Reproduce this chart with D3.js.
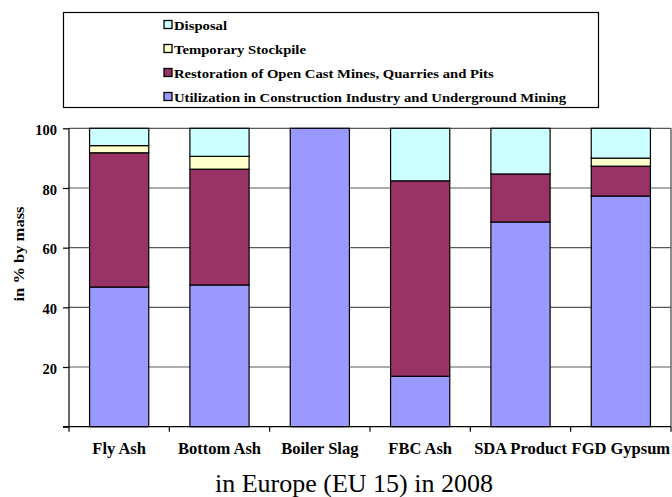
<!DOCTYPE html>
<html><head><meta charset="utf-8">
<script src="https://cdn.jsdelivr.net/npm/d3@7"></script>
<style>body{margin:0;background:#fff}svg{display:block}</style>
</head><body><svg id="c" width="672" height="497" font-family="Liberation Serif"></svg>
<script>
const categories = ["Fly Ash","Bottom Ash","Boiler Slag","FBC Ash","SDA Product","FGD Gypsum"];
const seriesNames = ["Utilization in Construction Industry and Underground Mining","Restoration of Open Cast Mines, Quarries and Pits","Temporary Stockpile","Disposal"];
const utilization = [46.8, 47.5, 100, 16.9, 68.6, 77.3];
const restoration = [45.0, 38.8, 0, 65.5, 16.1, 10.0];
const stockpile   = [2.4, 4.3, 0, 0, 0, 2.7];
const disposal    = [5.8, 9.4, 0, 17.6, 15.3, 10.0];
const yTicks = [0, 20, 40, 60, 80, 100];
const colors = ["#9999FF","#993366","#FFFFCC","#CCFFFF"];

const FONT = "Liberation Serif";
const svg = d3.select("#c");
const x0 = 69, x1 = 671, yTop = 128.3, yBot = 426.7;
const x = d3.scaleBand().domain(categories).range([x0, x1]).paddingInner(0.41).paddingOuter(0.205);
const y = d3.scaleLinear().domain([0, 100]).range([yBot, yTop]);

const rows = categories.map((c, i) => ({cat: c, s0: utilization[i], s1: restoration[i], s2: stockpile[i], s3: disposal[i]}));
const stack = d3.stack().keys(["s0","s1","s2","s3"])(rows);

// gridlines
svg.append("g").selectAll("line").data(yTicks.filter(d => d > 0)).join("line")
  .attr("x1", x0).attr("x2", x1).attr("y1", d => y(d)).attr("y2", d => y(d))
  .attr("stroke", "#5a5a5a").attr("stroke-width", 1.2);
svg.append("line").attr("x1", x1).attr("x2", x1).attr("y1", yTop).attr("y2", yBot).attr("stroke", "#404040").attr("stroke-width", 1.2);

// bars
stack.forEach((layer, li) => {
  svg.append("g").selectAll("rect").data(layer.filter(d => d[1] - d[0] > 0)).join("rect")
    .attr("x", d => x(d.data.cat)).attr("width", x.bandwidth())
    .attr("y", d => y(d[1])).attr("height", d => y(d[0]) - y(d[1]))
    .attr("fill", colors[li]).attr("stroke", "#000").attr("stroke-width", 1.2);
});

// y axis
const yAxis = d3.axisLeft(y).tickValues(yTicks).tickSize(6).tickPadding(6).tickFormat(d => d === 0 ? "" : d);
const ya = svg.append("g").attr("transform", `translate(${x0},0)`).call(yAxis).attr("font-family", FONT);
ya.select(".domain").attr("stroke", "#000").attr("stroke-width", 1.2).attr("d", `M0,${yTop}V${yBot}`);
ya.selectAll(".tick line").attr("stroke", "#000").attr("stroke-width", 1.2);
ya.selectAll("text").attr("font-family", FONT).attr("font-weight", "bold").attr("font-size", 14.5)
  .attr("fill", "#000").attr("dy", "0.42em");

// x axis
const xBound = d3.scaleLinear().domain([0, categories.length]).range([x0, x1]);
const xa = svg.append("g").attr("transform", `translate(0,${yBot})`);
xa.append("line").attr("x1", x0 - 6).attr("x2", x1).attr("y1", 0).attr("y2", 0).attr("stroke", "#000").attr("stroke-width", 1.2);
xa.selectAll("line.t").data(d3.range(categories.length + 1)).join("line").attr("class","t")
  .attr("x1", d => xBound(d)).attr("x2", d => xBound(d)).attr("y1", 0).attr("y2", 5).attr("stroke", "#000").attr("stroke-width", 1.2);
xa.selectAll("text").data(categories).join("text")
  .attr("x", d => x(d) + x.bandwidth() / 2).attr("y", 27)
  .attr("text-anchor", "middle").attr("font-family", FONT).attr("font-weight", "bold").attr("font-size", 16.5).text(d => d);

// y title
svg.append("text").attr("transform", "translate(24,254) rotate(-90)").attr("text-anchor", "middle")
  .attr("font-family", FONT).attr("font-weight", "bold").attr("font-size", 14)
  .attr("textLength", 95).attr("lengthAdjust", "spacingAndGlyphs").text("in % by mass");

// subtitle
svg.append("text").attr("x", 354).attr("y", 491.5).attr("text-anchor", "middle")
  .attr("font-family", FONT).attr("font-size", 26).text("in Europe (EU 15) in 2008");

// legend
svg.append("rect").attr("x", 63.5).attr("y", 12.5).attr("width", 535).attr("height", 95).attr("fill", "#fff").attr("stroke", "#000").attr("stroke-width", 1.2);
const legOrder = [3, 2, 1, 0];
const legScale = 1.13;
const lg = svg.append("g").selectAll("g").data(legOrder).join("g").attr("transform", (d, i) => `translate(164,${29.5 + i * 24})`);
lg.append("rect").attr("x", 0).attr("y", -9).attr("width", 8).attr("height", 8).attr("fill", d => colors[d]).attr("stroke", "#000").attr("stroke-width", 1.3);
lg.append("text").attr("transform", `translate(10,0) scale(${legScale},1)`).attr("font-family", FONT)
  .attr("font-weight", "bold").attr("font-size", 13).text(d => seriesNames[d]);
</script></body></html>
